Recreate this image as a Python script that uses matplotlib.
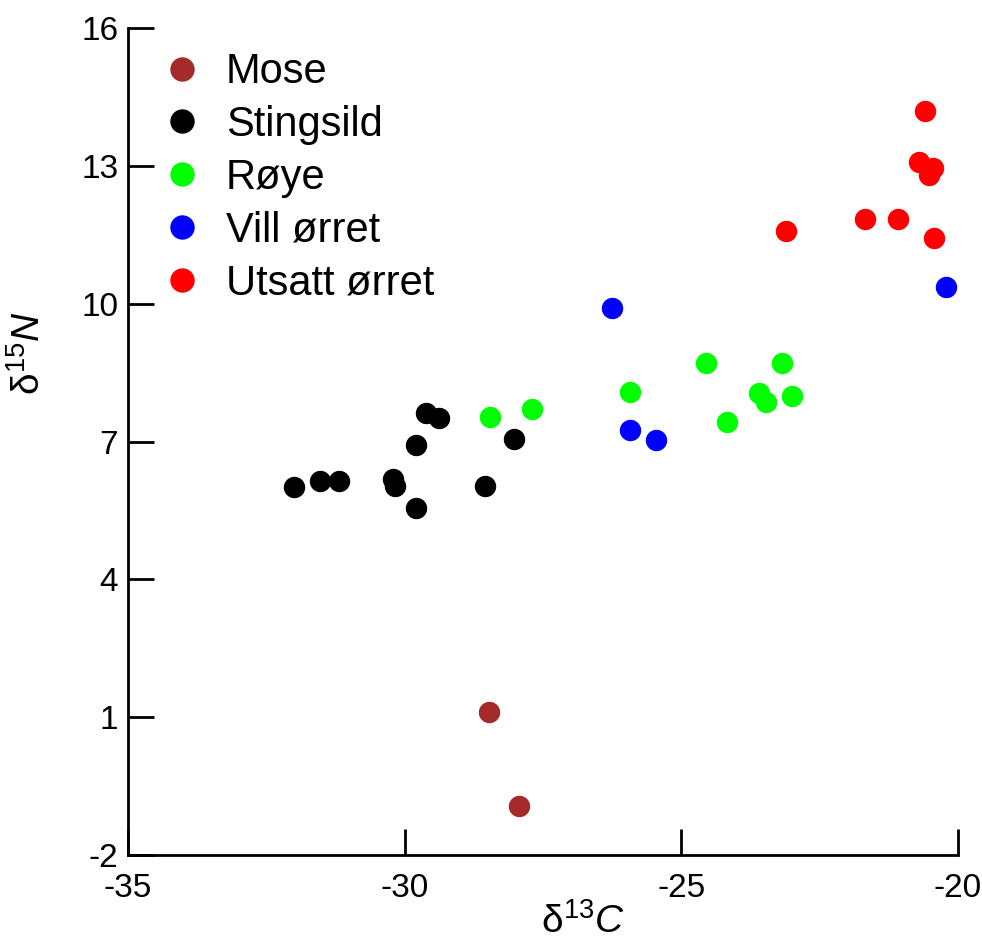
import matplotlib.pyplot as plt

plt.rcParams["font.family"] = ["Liberation Sans", "DejaVu Sans"]
plt.rcParams["axes.unicode_minus"] = False
plt.rcParams["mathtext.fontset"] = "custom"
plt.rcParams["mathtext.rm"] = "Liberation Sans"
plt.rcParams["mathtext.it"] = "Liberation Sans:italic"

# data (delta13C, delta15N)
mose_c = [-28.48, -27.94]
mose_n = [1.11, -0.94]

stingsild_c = [-32.0, -31.53, -31.19, -30.21, -30.17, -29.80, -29.79, -29.61, -29.38, -28.54, -28.03]
stingsild_n = [6.02, 6.14, 6.14, 6.18, 6.03, 5.55, 6.92, 7.61, 7.51, 6.03, 7.06]

roye_c = [-28.45, -27.70, -25.92, -24.55, -24.18, -23.59, -23.47, -23.18, -23.00]
roye_n = [7.53, 7.70, 8.08, 8.71, 7.42, 8.05, 7.85, 8.71, 7.99]

vill_c = [-26.26, -25.92, -25.46, -20.22]
vill_n = [9.91, 7.24, 7.04, 10.36]

utsatt_c = [-23.10, -21.68, -21.08, -20.60, -20.70, -20.45, -20.53, -20.44]
utsatt_n = [11.58, 11.84, 11.84, 14.19, 13.08, 12.96, 12.80, 11.44]

x_ticks = [-35, -30, -25, -20]
y_ticks = [-2, 1, 4, 7, 10, 13, 16]

fig = plt.figure(figsize=(9.82, 9.4), dpi=100)
ax = fig.add_axes([0.1303, 0.0904, 0.8453, 0.8798])

ms = 14.4
ax.plot(mose_c, mose_n, "o", color="#a52a2a", markersize=ms, label="Mose")
ax.plot(stingsild_c, stingsild_n, "o", color="black", markersize=ms, label="Stingsild")
ax.plot(roye_c, roye_n, "o", color="#00ff00", markersize=ms, label="Røye")
ax.plot(vill_c, vill_n, "o", color="#0000ff", markersize=ms, label="Vill ørret")
ax.plot(utsatt_c, utsatt_n, "o", color="#ff0000", markersize=ms, label="Utsatt ørret")

ax.set_xlim(-35, -20)
ax.set_ylim(-2, 16)
ax.set_xticks(x_ticks)
ax.set_yticks(y_ticks)

for side in ["top", "right"]:
    ax.spines[side].set_visible(False)
for side in ["left", "bottom"]:
    ax.spines[side].set_linewidth(2.0)

ax.tick_params(axis="both", direction="in", length=19, width=2.0, labelsize=24)
ax.tick_params(axis="x", pad=13)
ax.tick_params(axis="y", pad=7)

ax.set_xlabel(r"$\mathrm{δ}^{\mathit{13}}\mathit{C}$", fontsize=28)
ax.xaxis.set_label_coords(0.548, -0.058)
ax.set_ylabel(r"$\mathrm{δ}^{\mathit{15}}\mathit{N}$", fontsize=28)
ax.yaxis.set_label_coords(-0.097, 0.607)

ax.legend(loc="upper left", bbox_to_anchor=(0.005, 0.991), frameon=False,
          fontsize=30, handletextpad=0.25, labelspacing=0.31, borderaxespad=0.0,
          handlelength=1.6, markerscale=1.15)

fig.savefig("out.png", dpi=100)
